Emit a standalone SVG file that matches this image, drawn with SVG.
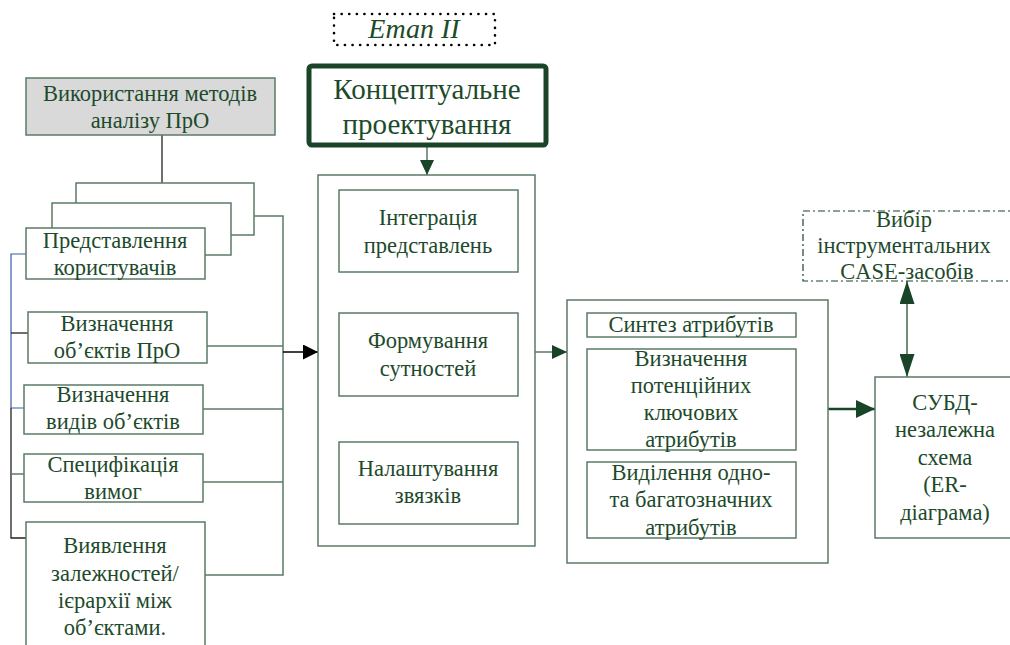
<svg xmlns="http://www.w3.org/2000/svg" width="1010" height="645" viewBox="0 0 1010 645">
  <style>
    .box { fill: #ffffff; stroke: #5b7b64; stroke-width: 1.5; }
    .gray { fill: #d9d9d9; stroke: #5b7b64; stroke-width: 1.5; }
    .thick { fill: #ffffff; stroke: #1a4428; stroke-width: 5; }
    .dotted { fill: none; stroke: #000; stroke-width: 2.6; stroke-dasharray: 0.1 7.5; stroke-linecap: round; }
    .dashdot { fill: none; stroke: #1a4428; stroke-width: 1.2; stroke-dasharray: 7 3 2 3; }
    .t { font-family: "Liberation Serif", "Times New Roman", serif; font-size: 22.5px; fill: #1d4a2b; text-anchor: middle; }
    .big { font-size: 29px; }
    .ital { font-style: italic; font-size: 28px; }
    .ln { fill: none; stroke: #5b7b64; stroke-width: 1.5; }
    .blk { fill: none; stroke: #222; stroke-width: 1.3; }
    .blue { fill: none; stroke: #3b5ba5; stroke-width: 1.2; }
  </style>
  <defs>
    <marker id="ahBlack" viewBox="0 0 10 10" refX="10" refY="5" markerWidth="15" markerHeight="15" markerUnits="userSpaceOnUse" orient="auto">
      <path d="M0,0 L10,5 L0,10 z" fill="#000"/>
    </marker>
    <marker id="ahGreen" viewBox="0 0 10 10" refX="10" refY="5" markerWidth="15" markerHeight="14" markerUnits="userSpaceOnUse" orient="auto" preserveAspectRatio="none">
      <path d="M0,0 L10,5 L0,10 z" fill="#1a4428"/>
    </marker>
    <marker id="ahGreenBig" viewBox="0 0 10 10" refX="10" refY="5" markerWidth="19" markerHeight="18" markerUnits="userSpaceOnUse" orient="auto" preserveAspectRatio="none">
      <path d="M0,0 L10,5 L0,10 z" fill="#1a4428"/>
    </marker>
    <marker id="ahTall" viewBox="0 0 10 10" refX="10" refY="5" markerWidth="23" markerHeight="15" markerUnits="userSpaceOnUse" orient="auto" preserveAspectRatio="none">
      <path d="M0,0 L10,5 L0,10 z" fill="#1a4428"/>
    </marker>
    <marker id="ahTallStart" viewBox="0 0 10 10" refX="0" refY="5" markerWidth="23" markerHeight="15" markerUnits="userSpaceOnUse" orient="auto" preserveAspectRatio="none">
      <path d="M10,0 L0,5 L10,10 z" fill="#1a4428"/>
    </marker>
  </defs>

  <!-- connectors -->
  <g id="connectors">
    <!-- gray box down to the stacked views -->
    <line class="blk" x1="162" y1="135" x2="162" y2="183"/>
    <!-- left bus -->
    <polyline class="blue" points="26,254 11,254 11,408 26,408"/>
    <polyline class="blk" points="11,408 11,538 26,538"/>
    <line class="blk" x1="11" y1="333" x2="28" y2="333"/>
    <line class="ln" x1="11" y1="474" x2="24" y2="474"/>
    <!-- right bus -->
    <polyline class="ln" points="254,216 283,216 283,575 205,575"/>
    <line class="ln" x1="207" y1="346" x2="283" y2="346"/>
    <line class="ln" x1="203" y1="409" x2="283" y2="409"/>
    <line class="ln" x1="203" y1="482" x2="283" y2="482"/>
    <line x1="283" y1="352" x2="318" y2="352" stroke="#000" stroke-width="1.3" marker-end="url(#ahBlack)"/>
    <!-- stage title to first container -->
    <line x1="427" y1="147" x2="427" y2="175" stroke="#5b7b64" stroke-width="1.5" marker-end="url(#ahGreen)"/>
    <!-- inside first container -->
    <line class="blk" x1="428" y1="272" x2="428" y2="313"/>
    <line class="blk" x1="435" y1="396" x2="435" y2="442"/>
    <!-- first container to second -->
    <line x1="535" y1="352" x2="567" y2="352" stroke="#5b7b64" stroke-width="1.5" marker-end="url(#ahGreen)"/>
    <!-- inside second container -->
    <line class="blk" x1="691" y1="337" x2="691" y2="349"/>
    <line class="blk" x1="691" y1="450" x2="691" y2="462"/>
    <!-- second container to schema -->
    <line x1="828" y1="409" x2="875" y2="409" stroke="#1a4428" stroke-width="2.5" marker-end="url(#ahGreenBig)"/>
    <!-- tool choice <-> schema -->
    <line x1="907" y1="281" x2="907" y2="377" stroke="#3f6a4b" stroke-width="1.5" marker-start="url(#ahTallStart)" marker-end="url(#ahTall)"/>
  </g>

  <!-- stage label -->
  <g id="stage">
    <rect class="dotted" x="334" y="14" width="161" height="31"/>
    <text class="t ital" x="414" y="38">Етап II</text>
  </g>

  <g id="conceptual">
    <rect class="thick" x="309" y="66" width="237" height="79" rx="3"/>
    <text class="t big" x="427" y="99">Концептуальне</text>
    <text class="t big" x="427" y="134">проектування</text>
  </g>

  <!-- left column -->
  <g id="analysis">
    <rect class="gray" x="26" y="78" width="249" height="57"/>
    <text class="t" x="150" y="101">Використання методів</text>
    <text class="t" x="150" y="128">аналізу ПрО</text>
  </g>

  <g id="views">
    <rect class="box" x="76" y="183" width="178" height="52"/>
    <rect class="box" x="52" y="203" width="179" height="52"/>
    <rect class="box" x="26" y="228" width="179" height="51"/>
    <text class="t" x="115" y="248">Представлення</text>
    <text class="t" x="115" y="275">користувачів</text>
  </g>

  <g id="objects">
    <rect class="box" x="28" y="312" width="179" height="51"/>
    <text class="t" x="117" y="331">Визначення</text>
    <text class="t" x="117" y="358">об’єктів ПрО</text>
  </g>

  <g id="kinds">
    <rect class="box" x="24" y="385" width="179" height="49"/>
    <text class="t" x="113" y="402">Визначення</text>
    <text class="t" x="113" y="429">видів об’єктів</text>
  </g>

  <g id="spec">
    <rect class="box" x="24" y="454" width="179" height="48"/>
    <text class="t" x="113" y="472">Специфікація</text>
    <text class="t" x="113" y="499">вимог</text>
  </g>

  <g id="hierarchy">
    <rect class="box" x="26" y="522" width="179" height="135"/>
    <text class="t" x="115" y="553">Виявлення</text>
    <text class="t" x="115" y="581">залежностей/</text>
    <text class="t" x="115" y="608">ієрархії між</text>
    <text class="t" x="115" y="635">об’єктами.</text>
  </g>

  <!-- first container -->
  <g id="container1">
    <rect class="box" x="318" y="175" width="217" height="371"/>
  </g>
  <g id="integration">
    <rect class="box" x="339" y="190" width="179" height="82"/>
    <text class="t" x="428" y="225">Інтеграція</text>
    <text class="t" x="428" y="253">представлень</text>
  </g>
  <g id="entities">
    <rect class="box" x="339" y="313" width="179" height="83"/>
    <text class="t" x="428" y="348">Формування</text>
    <text class="t" x="428" y="376">сутностей</text>
  </g>
  <g id="links">
    <rect class="box" x="339" y="442" width="179" height="82"/>
    <text class="t" x="428" y="476">Налаштування</text>
    <text class="t" x="428" y="503">звязків</text>
  </g>

  <!-- second container -->
  <g id="container2">
    <rect class="box" x="567" y="300" width="261" height="263"/>
  </g>
  <g id="synthesis">
    <rect class="box" x="587" y="313" width="209" height="24"/>
    <text class="t" x="691" y="332">Синтез атрибутів</text>
  </g>
  <g id="keys">
    <rect class="box" x="587" y="349" width="209" height="101"/>
    <text class="t" x="691" y="366">Визначення</text>
    <text class="t" x="691" y="393">потенційних</text>
    <text class="t" x="691" y="420">ключових</text>
    <text class="t" x="691" y="447">атрибутів</text>
  </g>
  <g id="valued">
    <rect class="box" x="587" y="462" width="209" height="76"/>
    <text class="t" x="691" y="480">Виділення одно-</text>
    <text class="t" x="691" y="507">та багатозначних</text>
    <text class="t" x="691" y="535">атрибутів</text>
  </g>

  <g id="case">
    <rect class="dashdot" x="803" y="211" width="215" height="70"/>
    <text class="t" x="904" y="227">Вибір</text>
    <text class="t" x="904" y="253">інструментальних</text>
    <text class="t" x="907" y="279">CASE-засобів</text>
  </g>

  <g id="schema">
    <rect class="box" x="875" y="377" width="140" height="161"/>
    <text class="t" x="945" y="410">СУБД-</text>
    <text class="t" x="945" y="437">незалежна</text>
    <text class="t" x="945" y="465">схема</text>
    <text class="t" x="945" y="492">(ER-</text>
    <text class="t" x="945" y="520">діаграма)</text>
  </g>
</svg>
